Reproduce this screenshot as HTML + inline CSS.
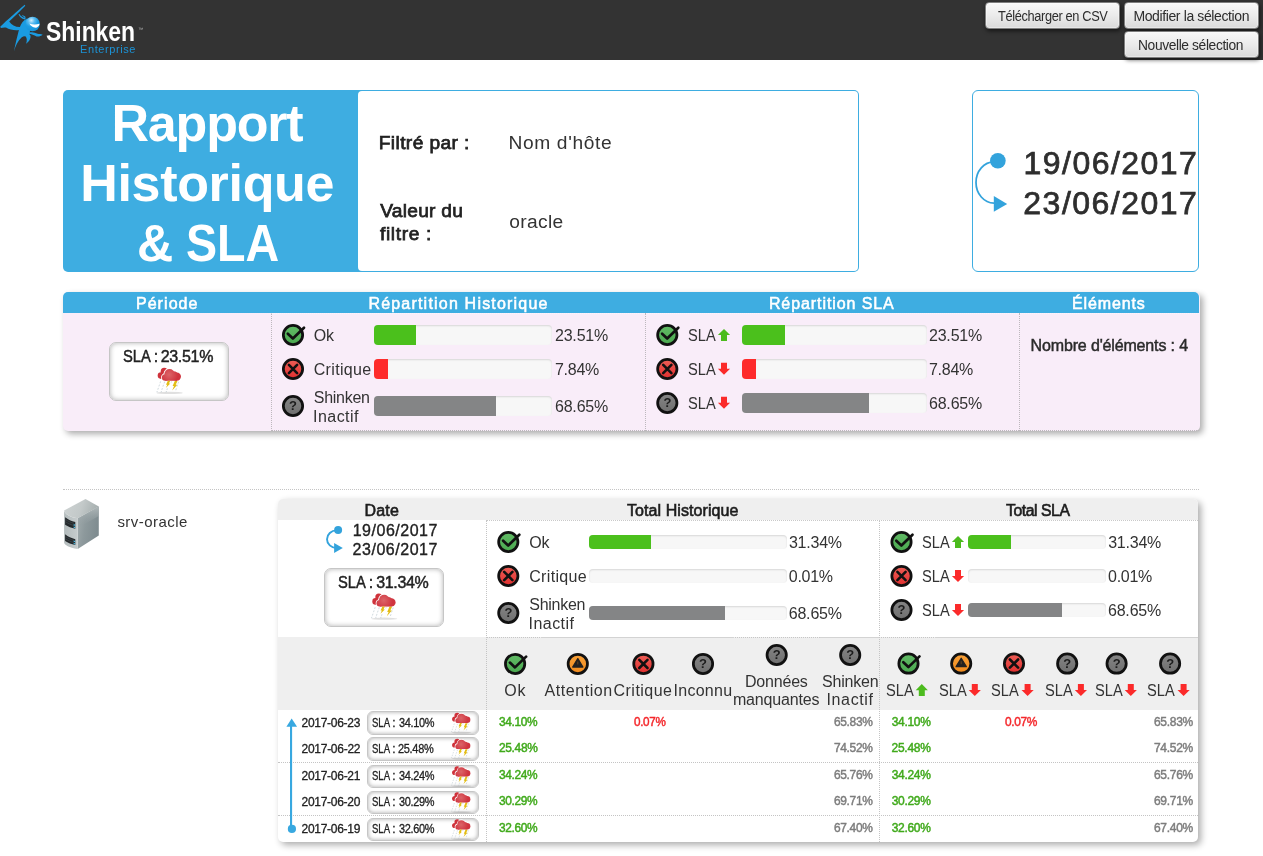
<!DOCTYPE html>
<html lang="fr">
<head>
<meta charset="utf-8">
<title>Rapport Historique &amp; SLA</title>
<style>
*{box-sizing:border-box;margin:0;padding:0}
html,body{width:1263px;height:856px;overflow:hidden;background:#fff}
body{font-family:"Liberation Sans",sans-serif;color:#333;position:relative;font-size:16px}
.abs{position:absolute}
.t{position:absolute;white-space:nowrap;line-height:1;color:#333}
#hdr{left:0;top:0;width:1263px;height:60px;background:#333}
.btn{position:absolute;border:1px solid #7e7e7e;border-radius:4px;background:linear-gradient(#f8f8f8,#ebebeb 50%,#dadada);box-shadow:inset 0 0 0 1px rgba(255,255,255,.35),1px 2px 4px rgba(0,0,0,.6)}
#card{left:63px;top:90px;width:796px;height:182px;background:#3eade1;border-radius:5px}
#cardw{left:358px;top:91px;width:500px;height:180px;background:#fff;border-radius:4px}
#dbox{left:972px;top:90px;width:227px;height:182px;border:1px solid #3eade1;border-radius:6px;background:#fff}
#sum{left:63px;top:292px;width:1137px;height:139px;border-radius:5px;background:#f9edf9;box-shadow:3px 3px 6px rgba(0,0,0,.33)}
#sumh{left:63px;top:292px;width:1136px;height:21px;border-radius:5px 5px 0 0;background:#3eade1}
.vd{position:absolute;width:0;border-left:1px dotted #bdb8bd}
.hd{position:absolute;height:0;border-top:1px dotted #bdb8bd}
.bar{position:absolute;border-radius:4px;background:#f7f7f7;box-shadow:inset 0 1px 2px rgba(0,0,0,.13);overflow:hidden}
.bar i{display:block;height:100%}
.g{background:#4bc01c}.r{background:#fe2b2b}.k{background:#848586}
.slab{position:absolute;background:#fff;border:1px solid #c6c6c6;border-radius:7px;box-shadow:inset 0 0 5px rgba(0,0,0,.3)}
.slab.s{border-radius:6px;box-shadow:inset 0 0 4px rgba(0,0,0,.35)}
#tbl{left:278px;top:499px;width:920px;height:343px;border-radius:5px;background:#fff;box-shadow:3px 3px 7px rgba(0,0,0,.33)}
#tblh{left:278px;top:499px;width:920px;height:21px;border-radius:5px 5px 0 0;background:#efefef}
#tblg{left:278px;top:637px;width:920px;height:73px;background:#efefef}
</style>
</head>
<body>
<div id="hdr" class="abs"></div>
<svg class="abs" style="left:0;top:0" width="60" height="60" viewBox="0 0 60 60">
<defs><radialGradient id="hg" cx="0.42" cy="0.25" r="0.75"><stop offset="0" stop-color="#d5effc"/><stop offset="0.3" stop-color="#5cbcf0"/><stop offset="0.6" stop-color="#1d9ee4"/><stop offset="1" stop-color="#1592d8"/></radialGradient></defs>
<path d="M24.7 4.7 C18 10.5 7 20 0.2 26.8 L0.9 28 C2.6 27.4 4.4 27.3 6 27.5 C9.5 29.6 14.5 30.6 18.9 30 C17.4 36 15.6 43 13.9 51.6 C15.6 46 18 40.6 21.5 37.6 C23 36.4 24.6 36 25.6 36.4 C27 37.6 27.2 40.4 26.1 43.8 C28.8 41.8 31 38.8 30.5 35.8 C30.2 34.8 29.4 34.2 28.6 33.8 C31.4 34 34 35.4 36.6 36.4 C38.8 36.8 41 36 42.7 34.7 C40.8 33.9 39.2 34.2 37.6 33.8 C35.6 33 33.8 32.5 32 32.3 L29.6 32.2 L32 26 L27 18.4 C23.6 20 21 23.4 19.9 27 C15 27 11.4 24.8 9.2 21.4 C14 16.8 20.8 10.4 25.3 5.7 Z" fill="#1a9be1"/>
<path d="M18.5 14.3 C19.4 16.9 21.6 18.8 24.8 19.4 L25.8 18.2 C23.2 17.6 20.8 16.4 19.5 13.9 Z M21.8 15.4 C23.4 15.2 25 16.2 25.8 17.6 L24.8 18 C24.2 16.9 23.2 16.1 21.8 15.4 Z" fill="#1a9be1"/>
<circle cx="32.5" cy="24" r="7.3" fill="url(#hg)"/>
<path d="M29.4 23.6 C32.6 24.8 36 24.8 39.6 23.8 C39.2 26.6 36.8 28.2 34.4 27.6 C32.2 27.1 30.4 25.6 29.4 23.6 Z" fill="#fff"/>
</svg>
<div class="t" style="left:46px;top:18px;font-size:28px;font-weight:bold;color:#fff;transform-origin:0 0;transform:scaleX(.818)">Shinken</div>
<div class="t" style="left:138.14px;top:27px;font-size:5px;color:#bbb;">™</div>
<div class="t" style="left:80.09px;top:44px;font-size:11px;letter-spacing:0.583px;color:#1c93d6;">Enterprise</div>
<div class="btn" style="left:985px;top:2px;width:135px;height:27px"></div>
<div class="t" style="left:997.71px;top:9px;font-size:14px;letter-spacing:-0.392px;transform-origin:0 0;transform:scaleX(0.9141);color:#2d2d2d;">Télécharger en CSV</div>
<div class="btn" style="left:1124px;top:2px;width:135px;height:27px"></div>
<div class="t" style="left:1133.44px;top:9px;font-size:14px;letter-spacing:-0.385px;color:#2d2d2d;">Modifier la sélection</div>
<div class="btn" style="left:1124px;top:31px;width:135px;height:27px"></div>
<div class="t" style="left:1138.46px;top:38px;font-size:14px;letter-spacing:-0.392px;transform-origin:0 0;transform:scaleX(0.9865);color:#2d2d2d;">Nouvelle sélection</div>
<div id="card" class="abs"></div><div id="cardw" class="abs"></div>
<div class="t" style="left:111.49px;top:97px;font-size:52px;letter-spacing:-1.188px;font-weight:bold;color:#fff;">Rapport</div>
<div class="t" style="left:80.24px;top:157px;font-size:52px;letter-spacing:-0.327px;font-weight:bold;color:#fff;">Historique</div>
<div class="t" style="left:136.62px;top:217px;font-size:52px;transform-origin:0 0;transform:scaleX(0.9653);font-weight:bold;color:#fff;">&amp;</div>
<div class="t" style="left:186.10px;top:217px;font-size:52px;transform-origin:0 0;transform:scaleX(0.8960);font-weight:bold;color:#fff;">SLA</div>
<div class="t" style="left:378.72px;top:133px;font-size:19.2px;letter-spacing:0.392px;color:#222;-webkit-text-stroke:0.75px;">Filtré par :</div>
<div class="t" style="left:508.42px;top:133px;font-size:19.2px;letter-spacing:0.646px;">Nom d'hôte</div>
<div class="t" style="left:380.20px;top:201px;font-size:19.2px;letter-spacing:0.251px;color:#222;-webkit-text-stroke:0.75px;">Valeur du</div>
<div class="t" style="left:380.01px;top:224px;font-size:19.2px;letter-spacing:0.639px;color:#222;-webkit-text-stroke:0.75px;">filtre :</div>
<div class="t" style="left:509.18px;top:212px;font-size:19.2px;letter-spacing:0.372px;">oracle</div>
<div id="dbox" class="abs"></div>
<svg class="abs" style="left:972px;top:150px" width="40" height="66" viewBox="0 0 40 66">
<path d="M22 11.8 A18 20.6 0 0 0 22 53" fill="none" stroke="#33a3dc" stroke-width="1.75"/>
<circle cx="25.85" cy="10.75" r="7.85" fill="#33a3dc"/><path d="M21.8 46.1 L35.2 54 L21.8 61.8 Z" fill="#33a3dc"/></svg>
<div class="t" style="left:1023.50px;top:147px;font-size:32px;letter-spacing:1.471px;color:#2e2e2e;-webkit-text-stroke:0.75px;">19/06/2017</div>
<div class="t" style="left:1023.30px;top:187px;font-size:32px;letter-spacing:1.493px;color:#2e2e2e;-webkit-text-stroke:0.75px;">23/06/2017</div>
<svg width="0" height="0" style="position:absolute"><defs>
<linearGradient id="gr" x1="0" y1="0" x2="0" y2="1"><stop offset="0" stop-color="#ee5f57"/><stop offset="1" stop-color="#e02f2f"/></linearGradient>
<linearGradient id="gg" x1="0" y1="0" x2="0" y2="1"><stop offset="0" stop-color="#62bb66"/><stop offset="1" stop-color="#4aa94f"/></linearGradient>
<linearGradient id="go" x1="0" y1="0" x2="0" y2="1"><stop offset="0" stop-color="#f9a23a"/><stop offset="1" stop-color="#f08a1c"/></linearGradient>
<linearGradient id="gk" x1="0" y1="0" x2="0" y2="1"><stop offset="0" stop-color="#858585"/><stop offset="1" stop-color="#6f6f6f"/></linearGradient>
<symbol id="iok" viewBox="0 0 24 24" overflow="visible"><circle cx="11" cy="12" r="9.65" fill="url(#gg)" stroke="#111" stroke-width="2.75"/><path d="M5.8 10.7 L10.9 15.5 L22 4.75" fill="none" stroke="#111" stroke-width="2.7" stroke-linecap="round" stroke-linejoin="round"/></symbol>
<symbol id="icr" viewBox="0 0 24 24" overflow="visible"><circle cx="11" cy="12" r="9.65" fill="url(#gr)" stroke="#111" stroke-width="2.75"/><path d="M6.9 7.9 L15.1 16.1 M15.1 7.9 L6.9 16.1" fill="none" stroke="#111" stroke-width="2.6" stroke-linecap="round"/></symbol>
<symbol id="iwa" viewBox="0 0 24 24" overflow="visible"><circle cx="11" cy="12" r="9.65" fill="url(#go)" stroke="#111" stroke-width="2.75"/><path d="M11 6.7 L16.1 15.1 L5.9 15.1 Z" fill="#232120" stroke="#232120" stroke-width="1.3" stroke-linejoin="round"/><path d="M11 9.6 L11 12.6" stroke="#8a5a22" stroke-width=".9" opacity=".7"/></symbol>
<symbol id="iun" viewBox="0 0 24 24" overflow="visible"><circle cx="11" cy="12" r="9.65" fill="url(#gk)" stroke="#111" stroke-width="2.75"/></symbol>
<symbol id="cloud" viewBox="0 0 27 27" overflow="visible">
<radialGradient id="cg" gradientUnits="userSpaceOnUse" cx="11.5" cy="7" r="9"><stop offset="0" stop-color="#db6468"/><stop offset="1" stop-color="#d0343f"/></radialGradient>
<ellipse cx="12" cy="25.3" rx="13" ry="1.1" fill="#000" opacity=".12"/>
<g fill="#cf323b"><circle cx="6.6" cy="3.7" r="3.5"/><circle cx="3.4" cy="8" r="3.3"/></g>
<g fill="#fff" stroke="#fff" stroke-width="1.7"><circle cx="11.9" cy="6.4" r="5.1"/><circle cx="19.2" cy="9" r="4.2"/><circle cx="16" cy="7.6" r="4"/><circle cx="7.6" cy="9.9" r="3.3"/><rect x="7.6" y="8" width="11.8" height="5.2"/></g>
<g fill="url(#cg)"><circle cx="11.9" cy="6.4" r="5.1"/><circle cx="19.2" cy="9" r="4.2"/><circle cx="16" cy="7.6" r="4"/><circle cx="7.6" cy="9.9" r="3.3"/><rect x="7.6" y="8" width="11.8" height="5.2"/></g>
<path d="M10.2 13.2 L12.7 13.2 L11.3 16 L12.7 16 L8.2 20.4 L9.7 17.1 L8.4 17.1 Z M17.2 13.3 L19.9 13.3 L18.1 17.1 L19.7 17.1 L14.6 22.8 L16.4 18.5 L15 18.5 Z" fill="#e3bd14"/>
<path d="M3 13.8 L2.4 15.6 M1.9 17 L1.3 18.8 M.8 20.3 L.2 22.1 M-.3 23.4 L-.7 24.6 M7.1 14 L6.5 15.8 M5.9 17.2 L5.3 19 M4.8 20.5 L4.2 22.3 M3.9 23.4 L3.5 24.6 M9.8 20.8 L9.3 22.4 M8.9 23.4 L8.5 24.6 M14 13.8 L13.6 15 M21 14.2 L20.4 16 M20 17.2 L19.4 19 M18.8 20.8 L18.2 22.6" stroke="#6f8b99" stroke-width=".55" opacity=".6" fill="none"/>
</symbol>
</defs></svg>
<div id="sum" class="abs"></div><div id="sumh" class="abs"></div>
<div class="vd" style="left:271px;top:313px;height:118px"></div>
<div class="vd" style="left:645px;top:313px;height:118px"></div>
<div class="vd" style="left:1019px;top:313px;height:118px"></div>
<div class="hd" style="left:271px;top:430px;width:928px"></div>
<div class="hd" style="left:271px;top:313px;width:928px;border-color:rgba(255,255,255,.45)"></div>
<div class="t" style="left:135.90px;top:296px;font-size:16px;letter-spacing:1.073px;color:#fff;-webkit-text-stroke:0.55px;">Période</div>
<div class="t" style="left:368.40px;top:296px;font-size:16px;letter-spacing:1.201px;color:#fff;-webkit-text-stroke:0.55px;">Répartition Historique</div>
<div class="t" style="left:768.90px;top:296px;font-size:16px;letter-spacing:0.917px;color:#fff;-webkit-text-stroke:0.55px;">Répartition SLA</div>
<div class="t" style="left:1071.90px;top:296px;font-size:16px;letter-spacing:0.894px;color:#fff;-webkit-text-stroke:0.55px;">Éléments</div>
<div class="slab" style="left:109px;top:342px;width:120px;height:59px"></div>
<div class="t" style="left:122.52px;top:349px;font-size:16px;transform-origin:0 0;transform:scaleX(0.9206);color:#222;-webkit-text-stroke:0.45px;">SLA</div>
<div class="t" style="left:153.76px;top:349px;font-size:16px;color:#222;-webkit-text-stroke:0.45px;">:</div>
<div class="t" style="left:160.63px;top:349px;font-size:16px;letter-spacing:-0.306px;color:#222;-webkit-text-stroke:0.45px;">23.51%</div>
<svg class="abs" style="left:157px;top:367px;overflow:visible" width="28" height="28"><use href="#cloud" x="0.60" y="0.60" width="27" height="27"/></svg>
<svg class="abs" style="left:282px;top:323px;overflow:visible" width="24" height="24"><use href="#iok" x="0.00" y="0.00" width="24" height="24"/></svg>
<svg class="abs" style="left:282px;top:357px;overflow:visible" width="24" height="24"><use href="#icr" x="0.00" y="0.00" width="24" height="24"/></svg>
<svg class="abs" style="left:282px;top:394px;overflow:visible" width="24" height="24"><use href="#iun" x="0.00" y="0.00" width="24" height="24"/></svg>
<div class="t" style="left:289.12px;top:399px;font-size:13px;font-weight:bold;color:#1c1c1c;">?</div>
<div class="t" style="left:313.74px;top:328px;font-size:16px;letter-spacing:-0.180px;">Ok</div>
<div class="t" style="left:313.70px;top:362px;font-size:16px;letter-spacing:0.337px;">Critique</div>
<div class="t" style="left:313.78px;top:390px;font-size:16px;letter-spacing:-0.263px;">Shinken</div>
<div class="t" style="left:313.02px;top:409px;font-size:16px;letter-spacing:0.460px;">Inactif</div>
<div class="bar" style="left:374px;top:325px;width:178px;height:20px"><i class="g" style="width:41.85px"></i></div>
<div class="bar" style="left:374px;top:359px;width:178px;height:20px"><i class="r" style="width:13.96px"></i></div>
<div class="bar" style="left:374px;top:396px;width:178px;height:20px"><i class="k" style="width:122.20px"></i></div>
<div class="t" style="left:554.95px;top:328px;font-size:16px;letter-spacing:-0.184px;">23.51%</div>
<div class="t" style="left:554.95px;top:362px;font-size:16px;letter-spacing:-0.260px;">7.84%</div>
<div class="t" style="left:554.95px;top:399px;font-size:16px;letter-spacing:-0.184px;">68.65%</div>
<svg class="abs" style="left:656px;top:323px;overflow:visible" width="24" height="24"><use href="#iok" x="0.30" y="0.00" width="24" height="24"/></svg>
<svg class="abs" style="left:656px;top:357px;overflow:visible" width="24" height="24"><use href="#icr" x="0.30" y="0.00" width="24" height="24"/></svg>
<svg class="abs" style="left:656px;top:391px;overflow:visible" width="24" height="24"><use href="#iun" x="0.30" y="0.00" width="24" height="24"/></svg>
<div class="t" style="left:663.42px;top:396px;font-size:13px;font-weight:bold;color:#1c1c1c;">?</div>
<div class="t" style="left:688.14px;top:328px;font-size:16px;transform-origin:0 0;transform:scaleX(0.9159);">SLA</div>
<svg class="abs" style="left:718px;top:329px;overflow:visible" width="13" height="13"><path transform="translate(0.00 0.00)" d="M6 0 L12.1 6.1 L9 6.1 L9 12 L3 12 L3 6.1 L-0.1 6.1 Z" fill="#4cbb1e"/></svg>
<div class="t" style="left:688.14px;top:362px;font-size:16px;transform-origin:0 0;transform:scaleX(0.9159);">SLA</div>
<svg class="abs" style="left:718px;top:362px;overflow:visible" width="13" height="13"><path transform="translate(0.00 0.75)" d="M6 12 L12.1 5.9 L9 5.9 L9 0 L3 0 L3 5.9 L-0.1 5.9 Z" fill="#fb2a2a"/></svg>
<div class="t" style="left:688.14px;top:396px;font-size:16px;transform-origin:0 0;transform:scaleX(0.9159);">SLA</div>
<svg class="abs" style="left:718px;top:396px;overflow:visible" width="13" height="13"><path transform="translate(0.00 0.75)" d="M6 12 L12.1 5.9 L9 5.9 L9 0 L3 0 L3 5.9 L-0.1 5.9 Z" fill="#fb2a2a"/></svg>
<div class="bar" style="left:742px;top:325px;width:184.5px;height:20px"><i class="g" style="width:43.38px"></i></div>
<div class="bar" style="left:742px;top:359px;width:184.5px;height:20px"><i class="r" style="width:14.46px"></i></div>
<div class="bar" style="left:742px;top:393px;width:184.5px;height:20px"><i class="k" style="width:126.66px"></i></div>
<div class="t" style="left:928.95px;top:328px;font-size:16px;letter-spacing:-0.184px;">23.51%</div>
<div class="t" style="left:928.95px;top:362px;font-size:16px;letter-spacing:-0.260px;">7.84%</div>
<div class="t" style="left:928.95px;top:396px;font-size:16px;letter-spacing:-0.184px;">68.65%</div>
<div class="t" style="left:1030.61px;top:338px;font-size:16px;letter-spacing:-0.152px;color:#2a2a2a;-webkit-text-stroke:0.45px;">Nombre d'éléments : 4</div>
<div class="hd" style="left:63px;top:489px;width:1136px;border-color:#c4c4c4"></div>
<svg class="abs" style="left:56px;top:494px" width="50" height="60" viewBox="0 0 50 60">
<defs><linearGradient id="s1" x1="0" y1="0" x2="1" y2="0.3"><stop offset="0" stop-color="#a3adaf"/><stop offset=".45" stop-color="#8d999c"/><stop offset="1" stop-color="#7f8c90"/></linearGradient>
<linearGradient id="s2" x1="0" y1="0.3" x2="1" y2="0.5"><stop offset="0" stop-color="#cdd2d2"/><stop offset=".5" stop-color="#c3c9c9"/><stop offset="1" stop-color="#a4adad"/></linearGradient>
<linearGradient id="s3" x1="0" y1="0" x2="1" y2="0"><stop offset="0" stop-color="#b3bbbc"/><stop offset="1" stop-color="#c6cccd"/></linearGradient>
<linearGradient id="s4" x1="0" y1="0" x2="0" y2="1"><stop offset="0" stop-color="#b5bdbe" stop-opacity=".9"/><stop offset="1" stop-color="#8d999c" stop-opacity="0"/></linearGradient></defs>
<path d="M21.7 24.2 L42.8 12.6 L42.8 41.4 L21.7 55 Z" fill="url(#s1)"/>
<path d="M21.7 24.2 L42.8 12.6 L42.8 22 L21.7 34 Z" fill="url(#s4)"/>
<path d="M8.1 16.5 C8.6 20 14 23.4 21.7 24.2 L21.7 55 C13 53.5 8.6 51 8.1 48.4 Z" fill="url(#s3)"/>
<path d="M8.1 16.5 L29.5 4.9 L42.8 12.6 L21.7 24.2 C14 23.4 8.6 20 8.1 16.5 Z" fill="url(#s2)"/>
<path d="M9.1 23.2 C12 25.6 15.4 27 19.3 28 L19.3 34.8 C15.4 34 12 32.8 9.1 30.8 Z" fill="#23282b"/>
<path d="M9.1 40.3 C12 42.7 15.4 44.2 19.3 45.2 L19.3 50.9 C15.4 50.2 12 49 9.1 47 Z" fill="#23282b"/>
<path d="M9.6 25.6 C12.4 27.4 15 28.5 18 29.3 M9.6 27.8 C12.4 29.6 15 30.7 18 31.5 M9.6 42.7 C12.4 44.5 15 45.6 18 46.4 M9.6 44.9 C12.4 46.7 15 47.8 18 48.6" stroke="#444b4e" stroke-width=".7" fill="none"/>
<path d="M17.6 30.2 L19.2 30.6 L19.2 31.8 L17.6 31.4 Z M17.6 32.6 L19.2 33 L19.2 34.2 L17.6 33.8 Z M17.6 46.6 L19.2 47 L19.2 48.2 L17.6 47.8 Z M17.6 48.9 L19.2 49.3 L19.2 50.5 L17.6 50.1 Z" fill="#4fc0e8"/>
</svg>
<div class="t" style="left:117.39px;top:514px;font-size:15px;letter-spacing:0.471px;">srv-oracle</div>
<div id="tbl" class="abs"></div><div id="tblh" class="abs"></div><div id="tblg" class="abs"></div>
<div class="hd" style="left:486px;top:520px;width:712px;border-color:#c9c9c9"></div>
<div class="hd" style="left:486px;top:637px;width:712px;border-color:#c6c6c6"></div>
<div class="abs" style="left:541px;top:637px;width:193px;height:1px;background:#d3d3d3"></div>
<div class="abs" style="left:820px;top:637px;width:59px;height:1px;background:#d3d3d3"></div>
<div class="abs" style="left:935px;top:637px;width:263px;height:1px;background:#d3d3d3"></div>
<div class="vd" style="left:486px;top:521px;height:321px;border-color:#c4c4c4"></div>
<div class="vd" style="left:879px;top:521px;height:321px;border-color:#c4c4c4"></div>
<div class="hd" style="left:278px;top:762px;width:920px;border-color:#c4c4c4"></div>
<div class="hd" style="left:278px;top:815px;width:920px;border-color:#c4c4c4"></div>
<div class="t" style="left:364.42px;top:503px;font-size:16px;letter-spacing:0.253px;color:#1d1d1d;-webkit-text-stroke:0.6px;">Date</div>
<div class="t" style="left:626.88px;top:503px;font-size:16px;letter-spacing:0.088px;color:#1d1d1d;-webkit-text-stroke:0.6px;">Total Historique</div>
<div class="t" style="left:1006.14px;top:503px;font-size:16px;letter-spacing:-0.448px;transform-origin:0 0;transform:scaleX(0.9849);color:#1d1d1d;-webkit-text-stroke:0.6px;">Total SLA</div>
<svg class="abs" style="left:324px;top:524px" width="22" height="32" viewBox="0 0 22 32">
<path d="M12.5 6.4 A9.5 8.8 0 0 0 12.5 24" fill="none" stroke="#33a3dc" stroke-width="1.9"/>
<circle cx="14.1" cy="5.9" r="4" fill="#33a3dc"/><path d="M10.1 19.1 L18.8 24 L10.1 28.9 Z" fill="#33a3dc"/></svg>
<div class="t" style="left:352.69px;top:523px;font-size:16px;letter-spacing:0.516px;color:#222;-webkit-text-stroke:0.35px;">19/06/2017</div>
<div class="t" style="left:352.59px;top:542px;font-size:16px;letter-spacing:0.527px;color:#222;-webkit-text-stroke:0.35px;">23/06/2017</div>
<div class="slab" style="left:324px;top:568px;width:120px;height:59px"></div>
<div class="t" style="left:337.77px;top:575px;font-size:16px;transform-origin:0 0;transform:scaleX(0.9206);color:#222;-webkit-text-stroke:0.45px;">SLA</div>
<div class="t" style="left:368.76px;top:575px;font-size:16px;color:#222;-webkit-text-stroke:0.45px;">:</div>
<div class="t" style="left:376.33px;top:575px;font-size:16px;letter-spacing:-0.396px;color:#222;-webkit-text-stroke:0.45px;">31.34%</div>
<svg class="abs" style="left:372px;top:593px;overflow:visible" width="28" height="28"><use href="#cloud" x="0.20" y="0.40" width="27" height="27"/></svg>
<svg class="abs" style="left:497px;top:530px;overflow:visible" width="24" height="24"><use href="#iok" x="0.30" y="0.00" width="24" height="24"/></svg>
<svg class="abs" style="left:497px;top:564px;overflow:visible" width="24" height="24"><use href="#icr" x="0.30" y="0.00" width="24" height="24"/></svg>
<svg class="abs" style="left:497px;top:601px;overflow:visible" width="24" height="24"><use href="#iun" x="0.30" y="0.00" width="24" height="24"/></svg>
<div class="t" style="left:504.42px;top:606px;font-size:13px;font-weight:bold;color:#1c1c1c;">?</div>
<div class="t" style="left:529.24px;top:535px;font-size:16px;letter-spacing:-0.180px;">Ok</div>
<div class="t" style="left:529.20px;top:569px;font-size:16px;letter-spacing:0.337px;">Critique</div>
<div class="t" style="left:529.28px;top:597px;font-size:16px;letter-spacing:-0.263px;">Shinken</div>
<div class="t" style="left:528.52px;top:616px;font-size:16px;letter-spacing:0.460px;">Inactif</div>
<div class="bar" style="left:589px;top:535px;width:198px;height:14px"><i class="g" style="width:62.05px"></i></div>
<div class="bar" style="left:589px;top:569px;width:198px;height:14px"><i class="r" style="width:0.02px"></i></div>
<div class="bar" style="left:589px;top:606px;width:198px;height:14px"><i class="k" style="width:135.93px"></i></div>
<div class="t" style="left:788.90px;top:535px;font-size:16px;letter-spacing:-0.224px;">31.34%</div>
<div class="t" style="left:788.86px;top:569px;font-size:16px;letter-spacing:-0.300px;">0.01%</div>
<div class="t" style="left:788.70px;top:606px;font-size:16px;letter-spacing:-0.184px;">68.65%</div>
<svg class="abs" style="left:890px;top:530px;overflow:visible" width="24" height="24"><use href="#iok" x="0.50" y="0.00" width="24" height="24"/></svg>
<svg class="abs" style="left:890px;top:564px;overflow:visible" width="24" height="24"><use href="#icr" x="0.50" y="0.00" width="24" height="24"/></svg>
<svg class="abs" style="left:890px;top:598px;overflow:visible" width="24" height="24"><use href="#iun" x="0.50" y="0.00" width="24" height="24"/></svg>
<div class="t" style="left:897.62px;top:603px;font-size:13px;font-weight:bold;color:#1c1c1c;">?</div>
<div class="t" style="left:921.84px;top:535px;font-size:16px;transform-origin:0 0;transform:scaleX(0.9159);">SLA</div>
<svg class="abs" style="left:952px;top:536px;overflow:visible" width="13" height="13"><path transform="translate(0.00 0.00)" d="M6 0 L12.1 6.1 L9 6.1 L9 12 L3 12 L3 6.1 L-0.1 6.1 Z" fill="#4cbb1e"/></svg>
<div class="t" style="left:921.84px;top:569px;font-size:16px;transform-origin:0 0;transform:scaleX(0.9159);">SLA</div>
<svg class="abs" style="left:952px;top:570px;overflow:visible" width="13" height="13"><path transform="translate(0.00 0.00)" d="M6 12 L12.1 5.9 L9 5.9 L9 0 L3 0 L3 5.9 L-0.1 5.9 Z" fill="#fb2a2a"/></svg>
<div class="t" style="left:921.84px;top:603px;font-size:16px;transform-origin:0 0;transform:scaleX(0.9159);">SLA</div>
<svg class="abs" style="left:952px;top:604px;overflow:visible" width="13" height="13"><path transform="translate(0.00 0.00)" d="M6 12 L12.1 5.9 L9 5.9 L9 0 L3 0 L3 5.9 L-0.1 5.9 Z" fill="#fb2a2a"/></svg>
<div class="bar" style="left:968px;top:535px;width:137.5px;height:14px"><i class="g" style="width:43.09px"></i></div>
<div class="bar" style="left:968px;top:569px;width:137.5px;height:14px"><i class="r" style="width:0.01px"></i></div>
<div class="bar" style="left:968px;top:603px;width:137.5px;height:14px"><i class="k" style="width:94.39px"></i></div>
<div class="t" style="left:1108.15px;top:535px;font-size:16px;letter-spacing:-0.224px;">31.34%</div>
<div class="t" style="left:1108.11px;top:569px;font-size:16px;letter-spacing:-0.300px;">0.01%</div>
<div class="t" style="left:1107.95px;top:603px;font-size:16px;letter-spacing:-0.184px;">68.65%</div>
<svg class="abs" style="left:504px;top:651px;overflow:visible" width="24" height="24"><use href="#iok" x="0.10" y="0.90" width="24" height="24"/></svg>
<svg class="abs" style="left:566px;top:651px;overflow:visible" width="24" height="24"><use href="#iwa" x="0.80" y="0.90" width="24" height="24"/></svg>
<svg class="abs" style="left:632px;top:651px;overflow:visible" width="24" height="24"><use href="#icr" x="0.40" y="0.90" width="24" height="24"/></svg>
<svg class="abs" style="left:692px;top:651px;overflow:visible" width="24" height="24"><use href="#iun" x="0.00" y="0.90" width="24" height="24"/></svg>
<div class="t" style="left:699.12px;top:657px;font-size:13px;font-weight:bold;color:#1c1c1c;">?</div>
<svg class="abs" style="left:765px;top:643px;overflow:visible" width="24" height="24"><use href="#iun" x="0.70" y="0.00" width="24" height="24"/></svg>
<div class="t" style="left:772.82px;top:648px;font-size:13px;font-weight:bold;color:#1c1c1c;">?</div>
<svg class="abs" style="left:839px;top:643px;overflow:visible" width="24" height="24"><use href="#iun" x="0.20" y="0.00" width="24" height="24"/></svg>
<div class="t" style="left:846.32px;top:648px;font-size:13px;font-weight:bold;color:#1c1c1c;">?</div>
<div class="t" style="left:504.24px;top:683px;font-size:16px;letter-spacing:0.820px;">Ok</div>
<div class="t" style="left:544.56px;top:683px;font-size:16px;letter-spacing:0.548px;">Attention</div>
<div class="t" style="left:613.50px;top:683px;font-size:16px;letter-spacing:0.480px;">Critique</div>
<div class="t" style="left:673.52px;top:683px;font-size:16px;letter-spacing:0.267px;">Inconnu</div>
<div class="t" style="left:744.98px;top:674px;font-size:16px;letter-spacing:-0.193px;">Données</div>
<div class="t" style="left:732.92px;top:692px;font-size:16px;letter-spacing:-0.160px;">manquantes</div>
<div class="t" style="left:821.98px;top:674px;font-size:16px;letter-spacing:-0.180px;">Shinken</div>
<div class="t" style="left:826.52px;top:692px;font-size:16px;letter-spacing:0.627px;">Inactif</div>
<svg class="abs" style="left:897px;top:651px;overflow:visible" width="24" height="24"><use href="#iok" x="0.50" y="0.60" width="24" height="24"/></svg>
<div class="t" style="left:885.54px;top:683px;font-size:16px;transform-origin:0 0;transform:scaleX(0.9159);">SLA</div>
<svg class="abs" style="left:915px;top:684px;overflow:visible" width="13" height="13"><path transform="translate(0.80 0.10)" d="M6 0 L12.1 6.1 L9 6.1 L9 12 L3 12 L3 6.1 L-0.1 6.1 Z" fill="#4cbb1e"/></svg>
<svg class="abs" style="left:950px;top:651px;overflow:visible" width="24" height="24"><use href="#iwa" x="0.20" y="0.60" width="24" height="24"/></svg>
<div class="t" style="left:938.54px;top:683px;font-size:16px;transform-origin:0 0;transform:scaleX(0.9159);">SLA</div>
<svg class="abs" style="left:968px;top:684px;overflow:visible" width="13" height="13"><path transform="translate(0.80 0.10)" d="M6 12 L12.1 5.9 L9 5.9 L9 0 L3 0 L3 5.9 L-0.1 5.9 Z" fill="#fb2a2a"/></svg>
<svg class="abs" style="left:1003px;top:651px;overflow:visible" width="24" height="24"><use href="#icr" x="0.00" y="0.60" width="24" height="24"/></svg>
<div class="t" style="left:991.34px;top:683px;font-size:16px;transform-origin:0 0;transform:scaleX(0.9159);">SLA</div>
<svg class="abs" style="left:1021px;top:684px;overflow:visible" width="13" height="13"><path transform="translate(0.60 0.10)" d="M6 12 L12.1 5.9 L9 5.9 L9 0 L3 0 L3 5.9 L-0.1 5.9 Z" fill="#fb2a2a"/></svg>
<svg class="abs" style="left:1056px;top:651px;overflow:visible" width="24" height="24"><use href="#iun" x="0.20" y="0.60" width="24" height="24"/></svg>
<div class="t" style="left:1063.32px;top:657px;font-size:13px;font-weight:bold;color:#1c1c1c;">?</div>
<div class="t" style="left:1044.64px;top:683px;font-size:16px;transform-origin:0 0;transform:scaleX(0.9159);">SLA</div>
<svg class="abs" style="left:1074px;top:684px;overflow:visible" width="13" height="13"><path transform="translate(0.90 0.10)" d="M6 12 L12.1 5.9 L9 5.9 L9 0 L3 0 L3 5.9 L-0.1 5.9 Z" fill="#fb2a2a"/></svg>
<svg class="abs" style="left:1105px;top:651px;overflow:visible" width="24" height="24"><use href="#iun" x="0.60" y="0.60" width="24" height="24"/></svg>
<div class="t" style="left:1112.72px;top:657px;font-size:13px;font-weight:bold;color:#1c1c1c;">?</div>
<div class="t" style="left:1094.54px;top:683px;font-size:16px;transform-origin:0 0;transform:scaleX(0.9159);">SLA</div>
<svg class="abs" style="left:1124px;top:684px;overflow:visible" width="13" height="13"><path transform="translate(0.80 0.10)" d="M6 12 L12.1 5.9 L9 5.9 L9 0 L3 0 L3 5.9 L-0.1 5.9 Z" fill="#fb2a2a"/></svg>
<svg class="abs" style="left:1159px;top:651px;overflow:visible" width="24" height="24"><use href="#iun" x="0.10" y="0.60" width="24" height="24"/></svg>
<div class="t" style="left:1166.22px;top:657px;font-size:13px;font-weight:bold;color:#1c1c1c;">?</div>
<div class="t" style="left:1147.34px;top:683px;font-size:16px;transform-origin:0 0;transform:scaleX(0.9159);">SLA</div>
<svg class="abs" style="left:1177px;top:684px;overflow:visible" width="13" height="13"><path transform="translate(0.60 0.10)" d="M6 12 L12.1 5.9 L9 5.9 L9 0 L3 0 L3 5.9 L-0.1 5.9 Z" fill="#fb2a2a"/></svg>
<div class="t" style="left:301.52px;top:717px;font-size:12px;letter-spacing:-0.279px;color:#222;-webkit-text-stroke:0.3px;">2017-06-23</div>
<div class="slab s" style="left:367px;top:711px;width:112px;height:23.5px"></div>
<div class="t" style="left:371.89px;top:717px;font-size:12px;transform-origin:0 0;transform:scaleX(0.7942);color:#222;-webkit-text-stroke:0.3px;">SLA</div>
<div class="t" style="left:392.32px;top:717px;font-size:12px;color:#222;-webkit-text-stroke:0.3px;">:</div>
<div class="t" style="left:398.51px;top:717px;font-size:12px;letter-spacing:-0.336px;transform-origin:0 0;transform:scaleX(0.9109);color:#222;-webkit-text-stroke:0.3px;">34.10%</div>
<svg class="abs" style="left:452px;top:712px;overflow:visible" width="23" height="23"><use href="#cloud" x="0.00" y="0.70" width="21.2" height="21.2"/></svg>
<div class="t" style="left:498.93px;top:716px;font-size:12px;letter-spacing:-0.336px;transform-origin:0 0;transform:scaleX(0.9916);color:#3fa91a;-webkit-text-stroke:0.45px;">34.10%</div>
<div class="t" style="left:891.73px;top:716px;font-size:12px;letter-spacing:-0.320px;color:#3fa91a;-webkit-text-stroke:0.45px;">34.10%</div>
<div class="t" style="left:634.01px;top:716px;font-size:12px;letter-spacing:-0.336px;transform-origin:0 0;transform:scaleX(0.9759);color:#f4282c;-webkit-text-stroke:0.45px;">0.07%</div>
<div class="t" style="left:1004.50px;top:716px;font-size:12px;letter-spacing:-0.336px;transform-origin:0 0;transform:scaleX(0.9916);color:#f4282c;-webkit-text-stroke:0.45px;">0.07%</div>
<div class="t" style="left:834.18px;top:716px;font-size:12px;letter-spacing:-0.336px;transform-origin:0 0;transform:scaleX(0.9955);color:#7d7d7d;-webkit-text-stroke:0.45px;">65.83%</div>
<div class="t" style="left:1153.98px;top:716px;font-size:12px;letter-spacing:-0.290px;color:#7d7d7d;-webkit-text-stroke:0.45px;">65.83%</div>
<div class="t" style="left:301.52px;top:743px;font-size:12px;letter-spacing:-0.269px;color:#222;-webkit-text-stroke:0.3px;">2017-06-22</div>
<div class="slab s" style="left:367px;top:737px;width:112px;height:23.5px"></div>
<div class="t" style="left:371.89px;top:743px;font-size:12px;transform-origin:0 0;transform:scaleX(0.7942);color:#222;-webkit-text-stroke:0.3px;">SLA</div>
<div class="t" style="left:392.32px;top:743px;font-size:12px;color:#222;-webkit-text-stroke:0.3px;">:</div>
<div class="t" style="left:398.37px;top:743px;font-size:12px;letter-spacing:-0.336px;transform-origin:0 0;transform:scaleX(0.9145);color:#222;-webkit-text-stroke:0.3px;">25.48%</div>
<svg class="abs" style="left:452px;top:738px;overflow:visible" width="23" height="23"><use href="#cloud" x="0.00" y="0.70" width="21.2" height="21.2"/></svg>
<div class="t" style="left:498.78px;top:742px;font-size:12px;letter-spacing:-0.336px;transform-origin:0 0;transform:scaleX(0.9955);color:#3fa91a;-webkit-text-stroke:0.45px;">25.48%</div>
<div class="t" style="left:891.58px;top:742px;font-size:12px;letter-spacing:-0.290px;color:#3fa91a;-webkit-text-stroke:0.45px;">25.48%</div>
<div class="t" style="left:834.18px;top:742px;font-size:12px;letter-spacing:-0.336px;transform-origin:0 0;transform:scaleX(0.9955);color:#7d7d7d;-webkit-text-stroke:0.45px;">74.52%</div>
<div class="t" style="left:1153.98px;top:742px;font-size:12px;letter-spacing:-0.290px;color:#7d7d7d;-webkit-text-stroke:0.45px;">74.52%</div>
<div class="t" style="left:301.52px;top:770px;font-size:12px;letter-spacing:-0.272px;color:#222;-webkit-text-stroke:0.3px;">2017-06-21</div>
<div class="slab s" style="left:367px;top:764.5px;width:112px;height:23.5px"></div>
<div class="t" style="left:371.89px;top:770px;font-size:12px;transform-origin:0 0;transform:scaleX(0.7942);color:#222;-webkit-text-stroke:0.3px;">SLA</div>
<div class="t" style="left:392.32px;top:770px;font-size:12px;color:#222;-webkit-text-stroke:0.3px;">:</div>
<div class="t" style="left:398.51px;top:770px;font-size:12px;letter-spacing:-0.336px;transform-origin:0 0;transform:scaleX(0.9109);color:#222;-webkit-text-stroke:0.3px;">34.24%</div>
<svg class="abs" style="left:452px;top:766px;overflow:visible" width="23" height="23"><use href="#cloud" x="0.00" y="0.20" width="21.2" height="21.2"/></svg>
<div class="t" style="left:498.93px;top:769px;font-size:12px;letter-spacing:-0.336px;transform-origin:0 0;transform:scaleX(0.9916);color:#3fa91a;-webkit-text-stroke:0.45px;">34.24%</div>
<div class="t" style="left:891.73px;top:769px;font-size:12px;letter-spacing:-0.320px;color:#3fa91a;-webkit-text-stroke:0.45px;">34.24%</div>
<div class="t" style="left:834.18px;top:769px;font-size:12px;letter-spacing:-0.336px;transform-origin:0 0;transform:scaleX(0.9955);color:#7d7d7d;-webkit-text-stroke:0.45px;">65.76%</div>
<div class="t" style="left:1153.98px;top:769px;font-size:12px;letter-spacing:-0.290px;color:#7d7d7d;-webkit-text-stroke:0.45px;">65.76%</div>
<div class="t" style="left:301.52px;top:796px;font-size:12px;letter-spacing:-0.286px;color:#222;-webkit-text-stroke:0.3px;">2017-06-20</div>
<div class="slab s" style="left:367px;top:790.5px;width:112px;height:23.5px"></div>
<div class="t" style="left:371.89px;top:796px;font-size:12px;transform-origin:0 0;transform:scaleX(0.7942);color:#222;-webkit-text-stroke:0.3px;">SLA</div>
<div class="t" style="left:392.32px;top:796px;font-size:12px;color:#222;-webkit-text-stroke:0.3px;">:</div>
<div class="t" style="left:398.51px;top:796px;font-size:12px;letter-spacing:-0.336px;transform-origin:0 0;transform:scaleX(0.9109);color:#222;-webkit-text-stroke:0.3px;">30.29%</div>
<svg class="abs" style="left:452px;top:792px;overflow:visible" width="23" height="23"><use href="#cloud" x="0.00" y="0.20" width="21.2" height="21.2"/></svg>
<div class="t" style="left:498.93px;top:795px;font-size:12px;letter-spacing:-0.336px;transform-origin:0 0;transform:scaleX(0.9916);color:#3fa91a;-webkit-text-stroke:0.45px;">30.29%</div>
<div class="t" style="left:891.73px;top:795px;font-size:12px;letter-spacing:-0.320px;color:#3fa91a;-webkit-text-stroke:0.45px;">30.29%</div>
<div class="t" style="left:834.18px;top:795px;font-size:12px;letter-spacing:-0.336px;transform-origin:0 0;transform:scaleX(0.9955);color:#7d7d7d;-webkit-text-stroke:0.45px;">69.71%</div>
<div class="t" style="left:1153.98px;top:795px;font-size:12px;letter-spacing:-0.290px;color:#7d7d7d;-webkit-text-stroke:0.45px;">69.71%</div>
<div class="t" style="left:301.52px;top:823px;font-size:12px;letter-spacing:-0.276px;color:#222;-webkit-text-stroke:0.3px;">2017-06-19</div>
<div class="slab s" style="left:367px;top:817.5px;width:112px;height:23.5px"></div>
<div class="t" style="left:371.89px;top:823px;font-size:12px;transform-origin:0 0;transform:scaleX(0.7942);color:#222;-webkit-text-stroke:0.3px;">SLA</div>
<div class="t" style="left:392.32px;top:823px;font-size:12px;color:#222;-webkit-text-stroke:0.3px;">:</div>
<div class="t" style="left:398.51px;top:823px;font-size:12px;letter-spacing:-0.336px;transform-origin:0 0;transform:scaleX(0.9109);color:#222;-webkit-text-stroke:0.3px;">32.60%</div>
<svg class="abs" style="left:452px;top:819px;overflow:visible" width="23" height="23"><use href="#cloud" x="0.00" y="0.20" width="21.2" height="21.2"/></svg>
<div class="t" style="left:498.93px;top:822px;font-size:12px;letter-spacing:-0.336px;transform-origin:0 0;transform:scaleX(0.9916);color:#3fa91a;-webkit-text-stroke:0.45px;">32.60%</div>
<div class="t" style="left:891.73px;top:822px;font-size:12px;letter-spacing:-0.320px;color:#3fa91a;-webkit-text-stroke:0.45px;">32.60%</div>
<div class="t" style="left:834.18px;top:822px;font-size:12px;letter-spacing:-0.336px;transform-origin:0 0;transform:scaleX(0.9955);color:#7d7d7d;-webkit-text-stroke:0.45px;">67.40%</div>
<div class="t" style="left:1153.98px;top:822px;font-size:12px;letter-spacing:-0.290px;color:#7d7d7d;-webkit-text-stroke:0.45px;">67.40%</div>
<svg class="abs" style="left:284px;top:716px" width="16" height="120" viewBox="0 0 16 120">
<rect x="6" y="8" width="2.1" height="104" fill="#38a8e0"/><path d="M7.65 2.5 L13.1 10.8 L2.4 10.8 Z" fill="#38a8e0"/><circle cx="7.9" cy="112.9" r="4.1" fill="#38a8e0"/></svg>
</body>
</html>
